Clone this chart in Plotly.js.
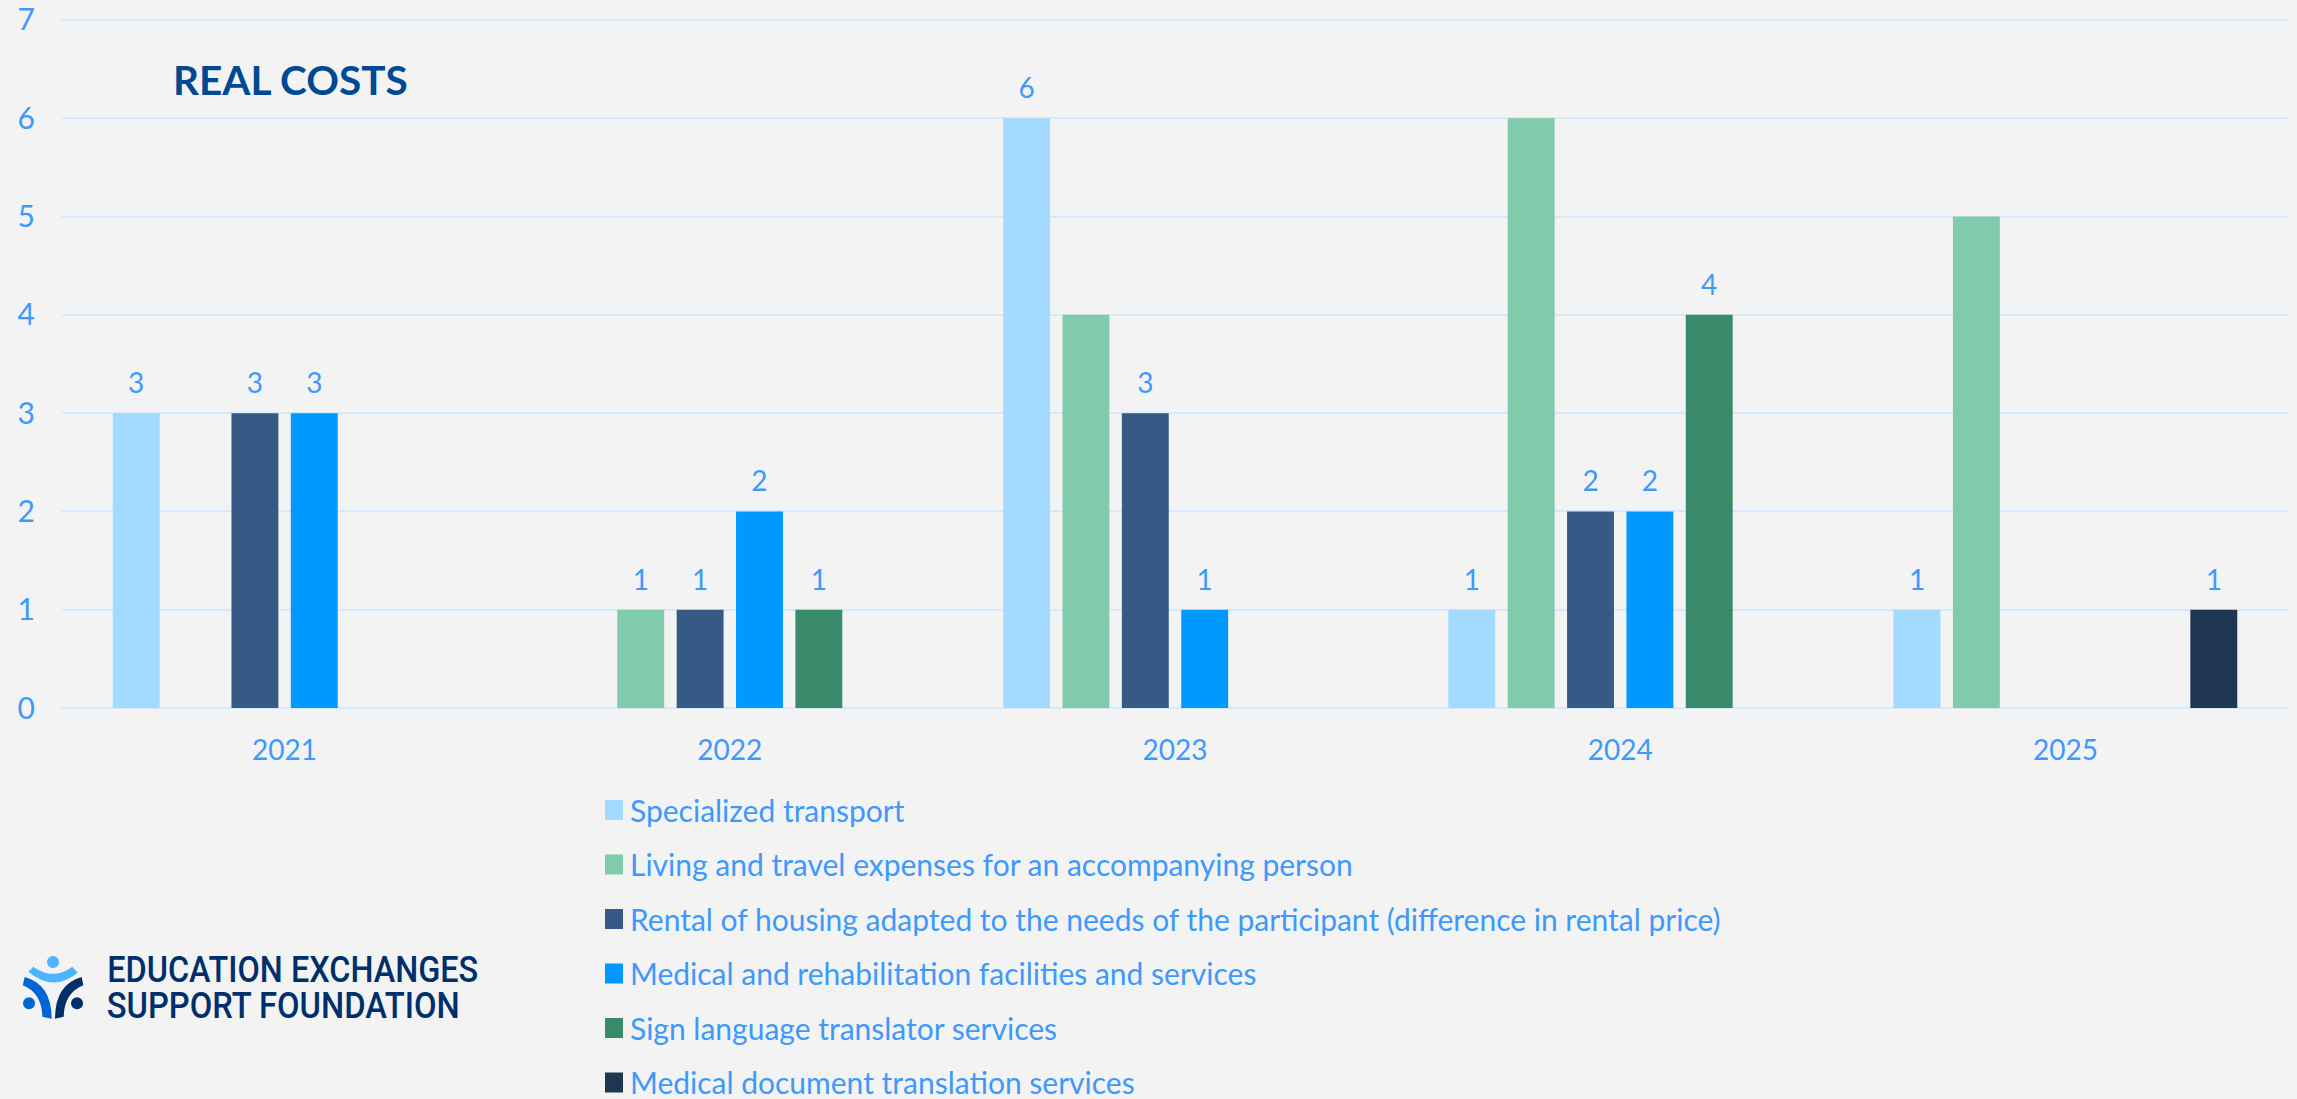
<!DOCTYPE html>
<html>
<head>
<meta charset="utf-8">
<script src="https://cdn.plot.ly/plotly-3.0.1.min.js"></script>
<style>
  html, body { margin: 0; padding: 0; background: #F3F3F3; overflow: hidden; }
  #chart { width: 2297px; height: 1099px; }
</style>
</head>
<body>
<div id="chart"></div>
<script>
// Yearly counts of real costs per support category
const years = ['2021', '2022', '2023', '2024', '2025'];

const transport = [3, null, 6, 1, 1];
const living = [null, 1, 4, 6, 5];
const housing = [3, 1, 3, 2, null];
const medical = [3, 2, 1, 2, null];
const signLanguage = [null, 1, null, 4, null];
const documents = [null, null, null, null, 1];

// Which years carry a printed value above the bar
const transportLabelled = [true, false, true, true, true];
const livingLabelled = [false, true, false, false, false];
const housingLabelled = [true, true, true, true, false];
const medicalLabelled = [true, true, true, true, false];
const signLanguageLabelled = [false, true, false, true, false];
const documentsLabelled = [false, false, false, false, true];

const seriesNames = [
  'Specialized transport',
  'Living and travel expenses for an accompanying person',
  'Rental of housing adapted to the needs of the participant (difference in rental price)',
  'Medical and rehabilitation facilities and services',
  'Sign language translator services',
  'Medical document translation services'
];
const seriesValues = [transport, living, housing, medical, signLanguage, documents];
const seriesLabelled = [transportLabelled, livingLabelled, housingLabelled, medicalLabelled, signLanguageLabelled, documentsLabelled];
const seriesColors = ['#A3DAFF', '#7FCBAB', '#345A85', '#0099FF', '#3A8B6B', '#1F3653'];

const TEXT_BLUE = '#3D99FB';
const FONT = 'Lato, Carlito, sans-serif';
const BRAND_FONT = 'Roboto, sans-serif';

const traces = seriesNames.map((name, i) => ({
  type: 'bar',
  name,
  x: years,
  y: seriesValues[i],
  legendgroup: 'g' + i,
  marker: { color: seriesColors[i], line: { width: 0 } },
  text: seriesValues[i].map((v, j) => (seriesLabelled[i][j] && v !== null ? String(v) : '')),
  textposition: 'outside',
  cliponaxis: false,
  textfont: { family: FONT, size: 28, color: TEXT_BLUE },
  hoverinfo: 'x+y+name'
}));

// Plot rectangle in page pixels, used to place the brand block in paper coordinates
const W = 2297, H = 1099;
const M = { l: 62, r: 9, t: 18, b: 390.5 };
const px = x => (x - M.l) / (W - M.l - M.r);
const py = y => (H - M.b - y) / (H - M.t - M.b);

const logoSvg = `<svg xmlns="http://www.w3.org/2000/svg" viewBox="60 165 200 200" width="200" height="200">
<circle cx="159" cy="188" r="18" fill="#4DB5FF"/>
<path d="M100 202 Q159 245 217 202 L233 220 Q159 280 85 217 Z" fill="#4DB5FF"/>
<path d="M74 233 Q155 255 155 358 L127 352 Q125 280 68 258 Z" fill="#0066D6"/>
<path d="M245 233 Q165 255 165 358 L191 352 Q193 280 250 258 Z" fill="#00306B"/>
<circle cx="87" cy="312" r="18" fill="#0066D6"/>
<circle cx="231" cy="312" r="18" fill="#00306B"/>
</svg>`;

const layout = {
  width: W,
  height: H,
  margin: M,
  paper_bgcolor: '#F3F3F3',
  plot_bgcolor: '#F3F3F3',
  barmode: 'group',
  bargap: 0.2,
  bargroupgap: 0.21,
  font: { family: FONT, color: TEXT_BLUE, size: 28 },
  showlegend: true,
  legend: {
    xref: 'paper', yref: 'container',
    x: px(590), y: 1 - 784 / H, xanchor: 'left', yanchor: 'top',
    bgcolor: 'rgba(0,0,0,0)',
    tracegroupgap: 12.5,
    traceorder: 'grouped',
    font: { family: FONT, size: 30, color: TEXT_BLUE },
    itemclick: false,
    itemdoubleclick: false
  },
  xaxis: {
    type: 'category',
    categoryorder: 'array',
    categoryarray: years,
    showgrid: false,
    zeroline: false,
    showline: false,
    ticks: '',
    ticklabelstandoff: 23,
    tickfont: { family: FONT, size: 28, color: TEXT_BLUE }
  },
  yaxis: {
    range: [0, 7.02],
    tickvals: [0, 1, 2, 3, 4, 5, 6, 7],
    showgrid: true,
    gridcolor: '#D6E8FB',
    gridwidth: 2,
    zeroline: true,
    zerolinecolor: '#D6E8FB',
    zerolinewidth: 2,
    ticks: '',
    ticklabelstandoff: 26,
    tickfont: { family: FONT, size: 30, color: TEXT_BLUE }
  },
  annotations: [
    { text: '<b>REAL COSTS</b>', xref: 'paper', yref: 'paper', x: px(171), y: py(80), xanchor: 'left', yanchor: 'middle',
      showarrow: false, font: { family: FONT, size: 40.5, color: '#004A94' } },
    { text: 'EDUCATION EXCHANGES', xref: 'paper', yref: 'paper', x: px(292.5), y: py(970), xanchor: 'center', yanchor: 'middle',
      showarrow: false, font: { family: BRAND_FONT, size: 37, weight: 500, color: '#00306B' } },
    { text: 'SUPPORT FOUNDATION', xref: 'paper', yref: 'paper', x: px(283.5), y: py(1006.5), xanchor: 'center', yanchor: 'middle',
      showarrow: false, font: { family: BRAND_FONT, size: 36, weight: 500, color: '#00306B' } }
  ],
  images: [{
    source: 'data:image/svg+xml;utf8,' + encodeURIComponent(logoSvg),
    xref: 'paper', yref: 'paper',
    x: px(20), y: py(955),
    sizex: 66.7 / (W - M.l - M.r), sizey: 66.7 / (H - M.t - M.b),
    xanchor: 'left', yanchor: 'top', layer: 'above'
  }]
};

// The brand lines are set in a condensed cut: fit each to its measured width
const brandWidths = { 1: 371, 2: 353 };

Plotly.newPlot('chart', traces, layout, { displayModeBar: false, responsive: false }).then(() => {
  Object.entries(brandWidths).forEach(([idx, width]) => {
    const t = document.querySelector(`.annotation[data-index="${idx}"] text`);
    if (t) {
      t.setAttribute('textLength', width);
      t.setAttribute('lengthAdjust', 'spacingAndGlyphs');
    }
  });
  // Lift the value labels clear of their bars
  document.querySelectorAll('.bartext').forEach(t => {
    t.setAttribute('transform', 'translate(0,-11) ' + (t.getAttribute('transform') || ''));
  });
  // Larger legend swatches, set a little nearer the entry text
  document.querySelectorAll('.legendpoints path').forEach(p => {
    p.setAttribute('d', 'M9,10H-9V-10H9Z');
    p.setAttribute('transform', 'translate(24,0)');
  });
});
</script>
</body>
</html>
